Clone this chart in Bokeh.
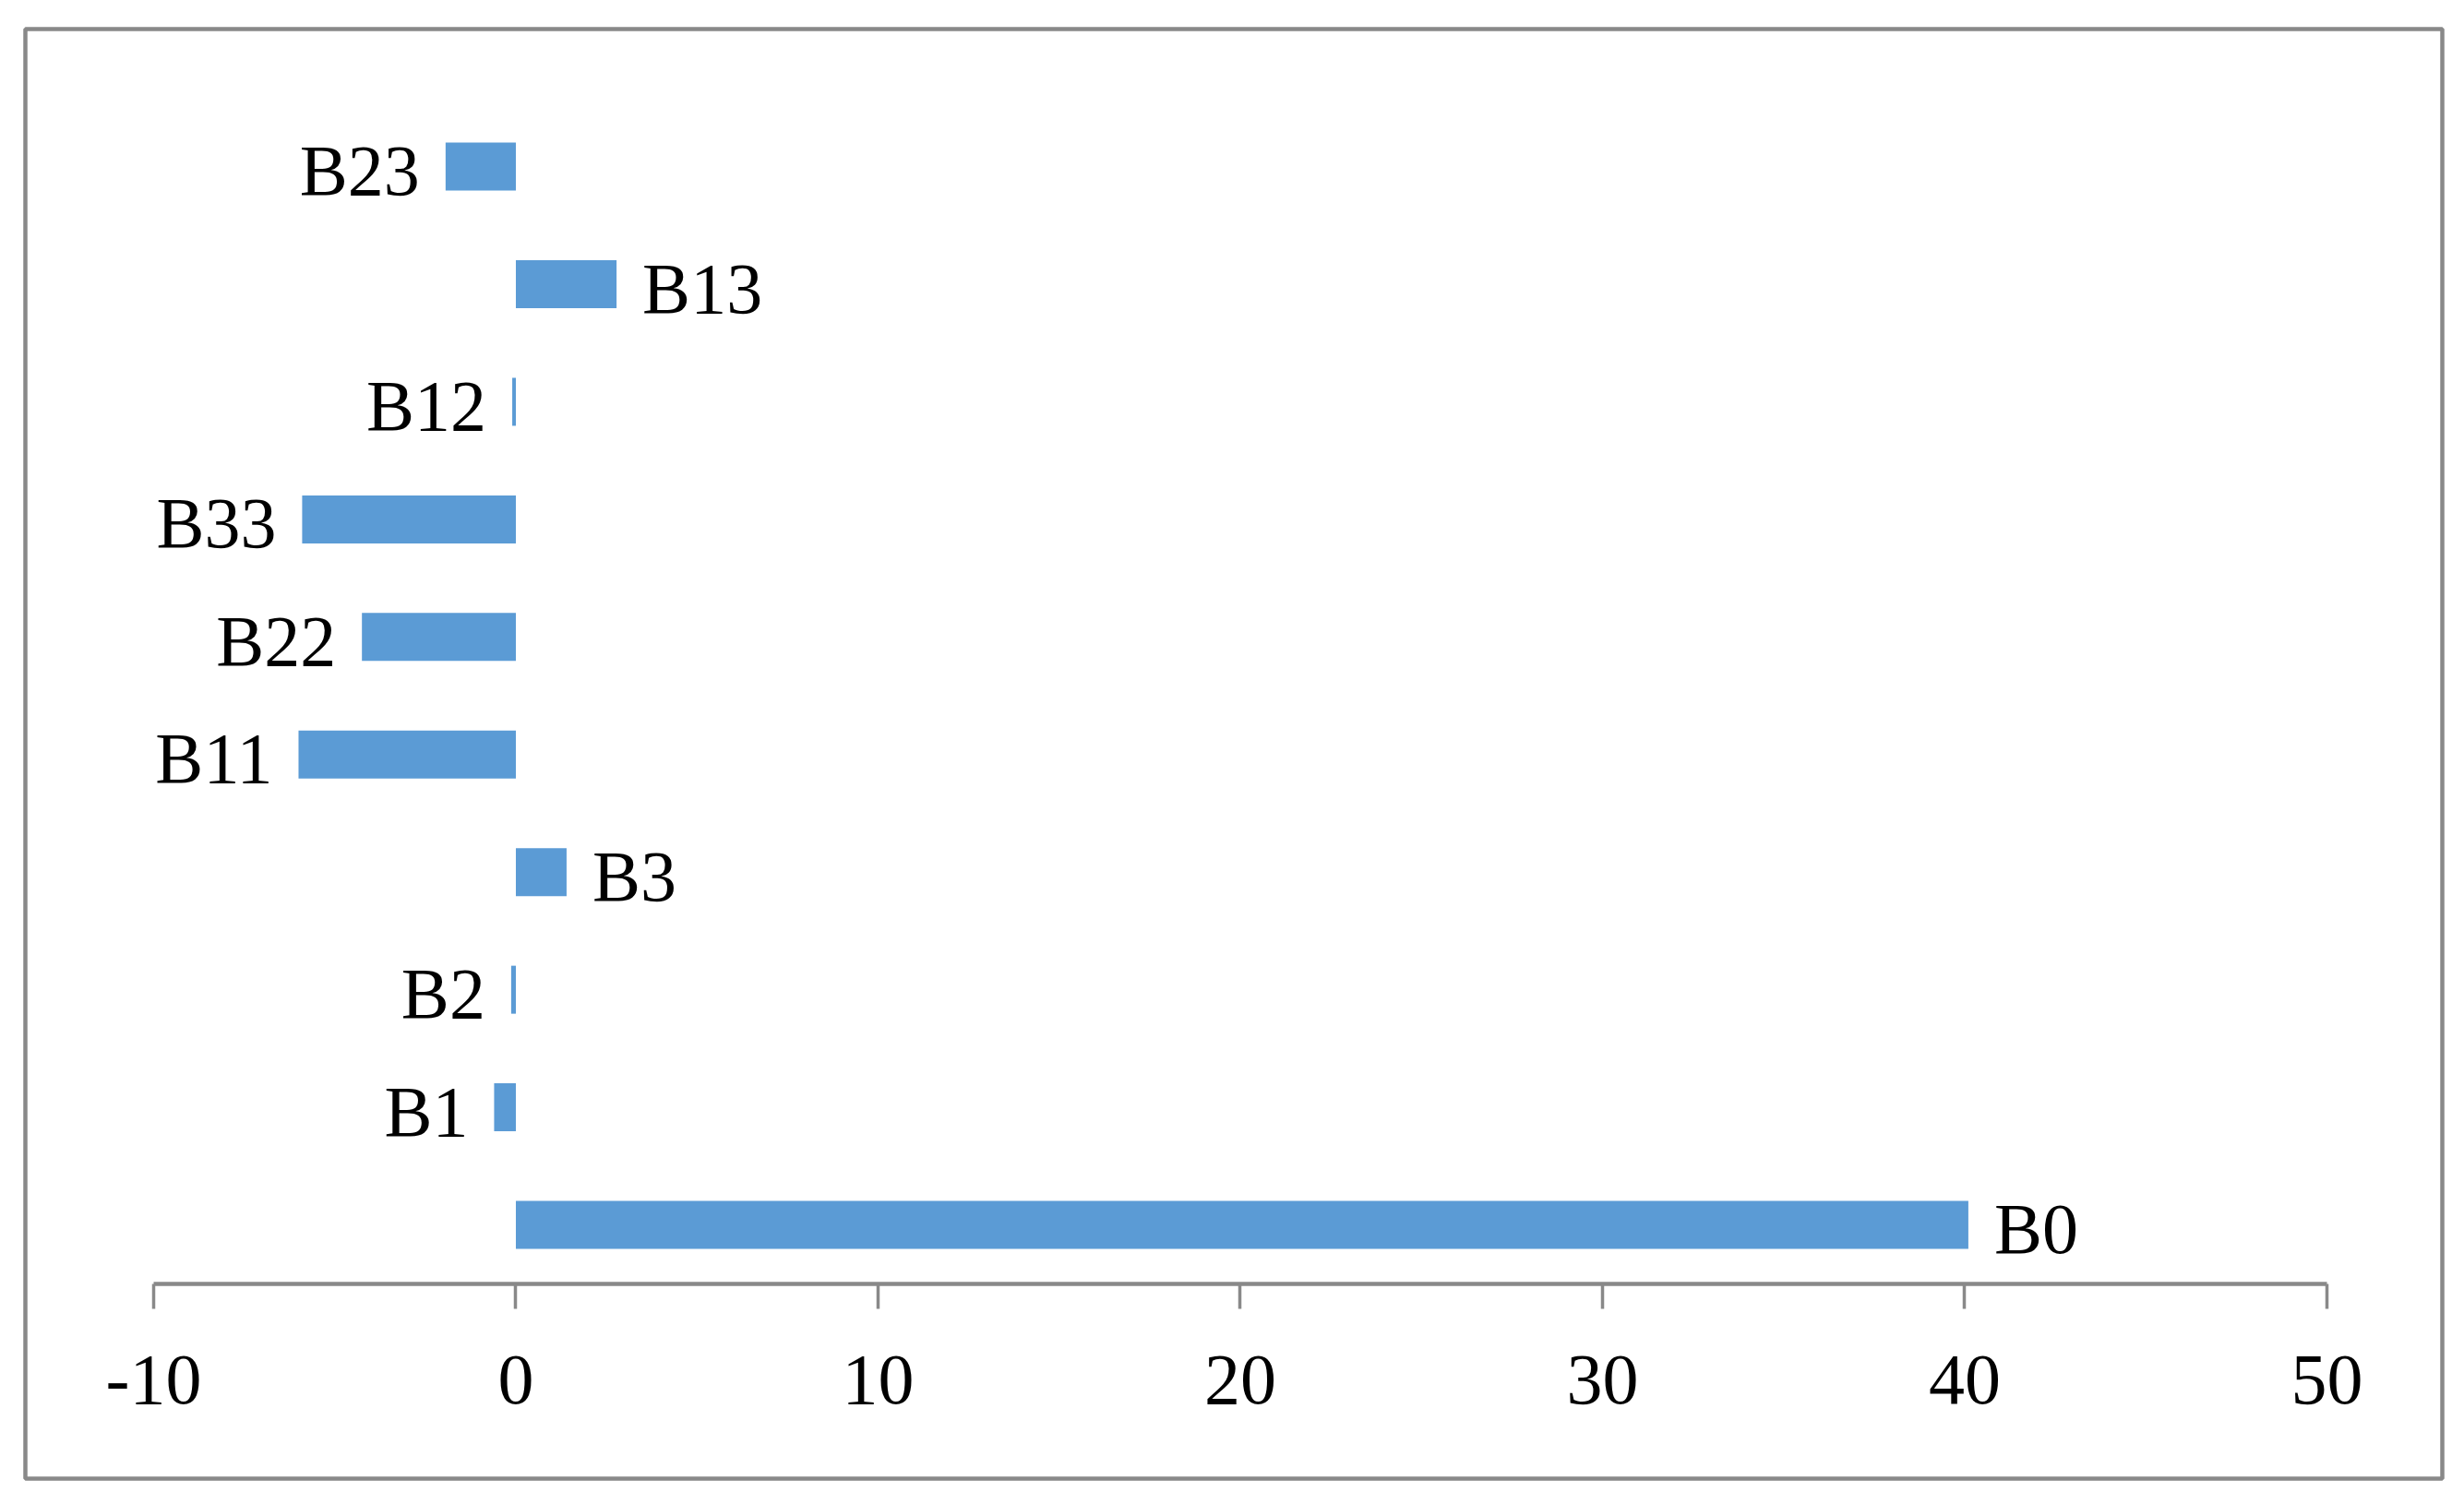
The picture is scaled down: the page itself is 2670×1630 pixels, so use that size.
from bokeh.plotting import figure
from bokeh.models import ColumnDataSource, Range1d, FixedTicker
from bokeh.core.properties import value
from bokeh.embed import file_html
from bokeh.resources import INLINE

# ---- data (bottom to top) ----
coefficients = ["B0", "B1", "B2", "B3", "B11", "B22", "B33", "B12", "B13", "B23"]
estimates = [40.1, -0.6, -0.13, 1.4, -6.0, -4.25, -5.9, -0.1, 2.78, -1.94]
x_ticks = [-10, 0, 10, 20, 30, 40, 50]
x_tick_labels = ["-10", "0", "10", "20", "30", "40", "50"]

FONT = "Liberation Serif"
FONT_SIZE = "78px"
BAR_COLOR = "#5B9BD5"
GRAY = "#898989"
GAP = 28

positions = list(range(len(coefficients)))

src = ColumnDataSource(dict(
    pos=positions,
    coef=coefficients,
    est=estimates,
    align=["left" if v > 0 else "right" for v in estimates],
    xoff=[GAP if v > 0 else -GAP for v in estimates],
))

# frame == the outer chart border; axis drawn at the bottom edge of the first band
p = figure(
    width=2654, height=1614,
    x_range=Range1d(-13.541, 53.185),
    y_range=Range1d(-2.158, 10.170),
    y_axis_location=None,
    output_backend="svg", toolbar_location=None,
    min_border_left=27, min_border_right=8,
    min_border_top=31, min_border_bottom=12,
)
p.outline_line_color = GRAY
p.outline_line_width = 4.5
p.xgrid.visible = False
p.ygrid.visible = False
p.background_fill_color = "white"
p.border_fill_color = "white"

p.hbar(y="pos", left=0, right="est", height=0.408, source=src,
       fill_color=BAR_COLOR, line_color=None)

p.text(x="est", y="pos", text="coef", source=src,
       x_offset="xoff", y_offset=4, text_align="align",
       text_baseline="middle", text_font=value(FONT),
       text_font_size=FONT_SIZE, text_color="black")

ax = p.xaxis[0]
ax.fixed_location = -0.5
ax.bounds = (x_ticks[0], x_ticks[-1])
ax.ticker = FixedTicker(ticks=x_ticks)
ax.major_label_overrides = {t: l for t, l in zip(x_ticks, x_tick_labels)}
ax.minor_tick_line_color = None
ax.axis_line_color = GRAY
ax.axis_line_width = 4.5
ax.major_tick_line_color = GRAY
ax.major_tick_line_width = 3.5
ax.major_tick_in = 0
ax.major_tick_out = 27
ax.major_label_standoff = 52
ax.major_label_text_font = FONT
ax.major_label_text_font_size = FONT_SIZE
ax.major_label_text_color = "black"

open("out.html", "w").write(file_html(p, INLINE))
